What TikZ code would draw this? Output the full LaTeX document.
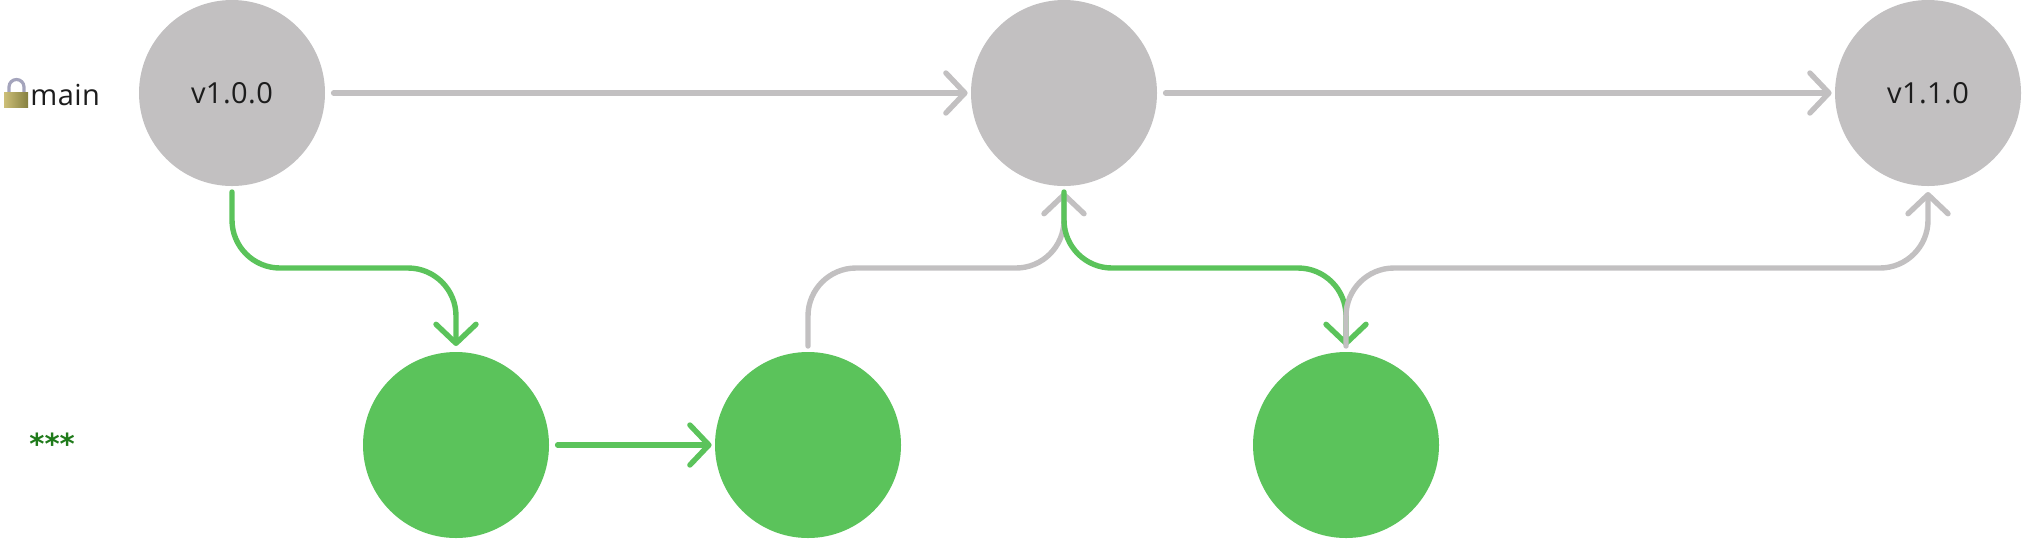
\documentclass[tikz,border=0pt]{standalone}
\usepackage{fontspec}
\setmainfont[LetterSpace=1.5]{Open Sans}
\newfontfamily\starfont{DejaVu Sans Bold}
\usepackage{xcolor}
\usetikzlibrary{arrows.meta,positioning}
\definecolor{commitgrey}{HTML}{C2C0C1}
\definecolor{commitgreen}{HTML}{5BC35B}
\definecolor{secretgreen}{HTML}{1F7A1A}
\definecolor{inkdark}{HTML}{1C1C1C}
\definecolor{lockleft}{HTML}{CDBF78}
\definecolor{lockright}{HTML}{858040}
\definecolor{shackle}{HTML}{A4A4BC}
\tikzset{
    every node/.style={font=\fontsize{14.5}{17}\selectfont, text=inkdark},
    commit/.style={circle, minimum size=93pt, inner sep=0pt, outer sep=3pt},
    link/.style={line width=2.7pt, line cap=round, line join=round,
        -{Straight Barb[length=9.5pt, width=20pt, round]}, rounded corners=24pt},
    across/.style={link, shorten <=1.3pt, shorten >=-1.3pt}
}

\begin{document}
\begin{tikzpicture}[x=0.5pt, y=-0.5pt]
    \useasboundingbox (0,0) rectangle (2022,538);

    % Commits on the upper row
    \node[commit, fill=commitgrey] (v100) at (232,93) {v1.0.0};
    \node[commit, fill=commitgrey] (merge) at (1064,93) {};
    \node[commit, fill=commitgrey] (v110) at (1928,93) {v1.1.0};

    % Commits on the lower row
    \node[commit, fill=commitgreen] (fixa) at (456,445) {};
    \node[commit, fill=commitgreen] (fixb) at (808,445) {};
    \node[commit, fill=commitgreen] (fixc) at (1346,445) {};

    % Row labels
    \node[anchor=west, inner sep=0pt] (mainlabel) at (30,95) {main};
    \node[anchor=west, inner sep=0pt, text=secretgreen] (secretlabel) at (29,444) {\starfont\fontsize{14.5}{17}\selectfont ***};

    % Lock
    \draw[line width=1.6pt, color=shackle] (9,93) -- (9,87) arc[start angle=180, end angle=360, radius=7.5] -- (24,93);
    \fill[left color=lockleft, right color=lockright] (4,92) rectangle (28,107);

    % Row line for the bends
    \coordinate (bend) at (0,268);

    % Connectors
    \draw[across, commitgrey] (v100) -- (merge);
    \draw[across, commitgrey] (merge) -- (v110);
    \draw[across, commitgreen] (fixa) -- (fixb);
    \draw[link, commitgreen] (v100.south) -- (v100.south |- bend) -- (fixa.north |- bend) -- (fixa.north);
    \draw[link, commitgrey] (fixb.north) -- (fixb.north |- bend) -- (merge.south |- bend) -- (merge.south);
    \draw[link, commitgreen] (merge.south) -- (merge.south |- bend) -- (fixc.north |- bend) -- (fixc.north);
    \draw[link, commitgrey] (fixc.north) -- (fixc.north |- bend) -- (v110.south |- bend) -- (v110.south);
\end{tikzpicture}
\end{document}
